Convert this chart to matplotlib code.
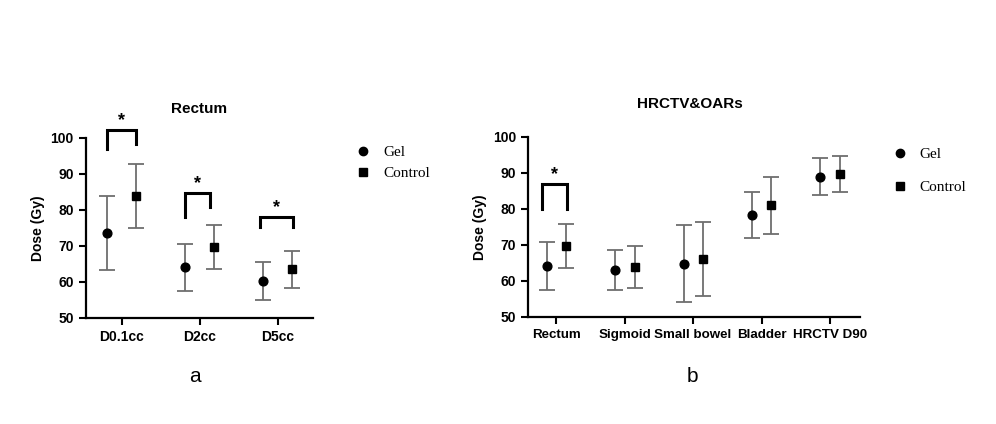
import matplotlib.pyplot as plt
from matplotlib.lines import Line2D

# panel a: rectum dose metrics
rect_cats = ["D0.1cc", "D2cc", "D5cc"]
rect_gel = [73.5, 64.0, 60.2]
rect_gel_sd = [10.2, 6.6, 5.3]
rect_ctrl = [83.8, 69.7, 63.4]
rect_ctrl_sd = [8.9, 6.1, 5.2]

# panel b: HRCTV & OARs
oar_cats = ["Rectum", "Sigmoid", "Small bowel", "Bladder", "HRCTV D90"]
oar_gel = [64.2, 63.0, 64.8, 78.4, 89.0]
oar_gel_sd = [6.6, 5.6, 10.7, 6.4, 5.2]
oar_ctrl = [69.7, 63.8, 66.1, 81.0, 89.7]
oar_ctrl_sd = [6.1, 5.8, 10.3, 7.9, 5.1]

plt.rcParams["font.family"] = ["Liberation Sans", "DejaVu Sans"]

fig = plt.figure(figsize=(9.96, 4.24), dpi=100)
ax1 = fig.add_axes([0.086, 0.2507, 0.228, 0.4245])
ax2 = fig.add_axes([0.530, 0.2526, 0.3336, 0.4245])


def draw(ax, cats, gel, gel_sd, ctrl, ctrl_sd, off_g, off_c, xlim, xsize):
    xs = list(range(len(cats)))
    xg = [x + off_g for x in xs]
    xc = [x + off_c for x in xs]
    for x, y, e in [(xg, gel, gel_sd), (xc, ctrl, ctrl_sd)]:
        _, caps, _ = ax.errorbar(x, y, yerr=e, fmt="none", ecolor="#6e6e6e",
                                 elinewidth=1.3, capsize=5.5, capthick=1.3)
        for c in caps:
            c.set_color("#1a1a1a")
    ax.plot(xg, gel, "o", color="black", ms=6.3, zorder=3)
    ax.plot(xc, ctrl, "s", color="black", ms=6.3, zorder=3)
    ax.set_xlim(*xlim)
    ax.set_ylim(50, 100)
    ax.set_yticks([50, 60, 70, 80, 90, 100])
    ax.set_xticks(xs)
    ax.set_xticklabels(cats)
    for s in ["top", "right"]:
        ax.spines[s].set_visible(False)
    for s in ["left", "bottom"]:
        ax.spines[s].set_linewidth(1.6)
    ax.tick_params(width=1.5, length=5, labelsize=10)
    ax.tick_params(axis="x", labelsize=xsize)
    for lab in ax.get_xticklabels() + ax.get_yticklabels():
        lab.set_fontweight("bold")
    ax.set_ylabel("Dose (Gy)", fontsize=10, fontweight="bold", labelpad=4)
    return xg, xc


def bracket(ax, x0, x1, top, left_bottom, right_bottom):
    ax.plot([x0, x0, x1, x1], [left_bottom, top, top, right_bottom],
            color="black", lw=2.2, clip_on=False, solid_joinstyle="miter")
    ax.text((x0 + x1) / 2, top + 2.6, "*", ha="center", va="center",
            fontsize=13, fontweight="bold", clip_on=False)


xg1, xc1 = draw(ax1, rect_cats, rect_gel, rect_gel_sd, rect_ctrl, rect_ctrl_sd,
                -0.19, 0.19, (-0.46, 2.45), 10)
bracket(ax1, 0 - 0.19, 0 + 0.19, 102.1, 96.8, 98.2)
bracket(ax1, 1 - 0.19, 1 + 0.137, 84.7, 78.1, 80.8)
bracket(ax1, 2 - 0.23, 2 + 0.2, 78.1, 75.1, 75.1)

xg2, xc2 = draw(ax2, oar_cats, oar_gel, oar_gel_sd, oar_ctrl, oar_ctrl_sd,
                -0.14, 0.145, (-0.413, 4.44), 9.6)
bracket(ax2, -0.2, 0.165, 86.8, 80.1, 80.1)

fig.text(0.2, 1 - 109 / 424, "Rectum", ha="center", va="center",
         fontsize=11, fontweight="bold")
fig.text(0.693, 1 - 104 / 424, "HRCTV&OARs", ha="center", va="center",
         fontsize=11, fontweight="bold")

handles = [Line2D([], [], marker="o", ls="none", color="black", ms=6),
           Line2D([], [], marker="s", ls="none", color="black", ms=6)]
fig.legend(handles, ["Gel", "Control"], loc="upper left",
           bbox_to_anchor=(0.343, 1 - 132 / 424), frameon=False,
           prop={"family": "Liberation Serif", "size": 11},
           labelspacing=0.45, handletextpad=0.8, handlelength=1)
fig.legend(handles, ["Gel", "Control"], loc="upper left",
           bbox_to_anchor=(0.882, 1 - 134 / 424), frameon=False,
           prop={"family": "Liberation Serif", "size": 11},
           labelspacing=1.25, handletextpad=0.8, handlelength=1)

fig.text(195 / 996, 1 - 377 / 424, "a", ha="center", va="center", fontsize=15)
fig.text(692 / 996, 1 - 377 / 424, "b", ha="center", va="center", fontsize=15)

fig.savefig("out.png", dpi=100)
